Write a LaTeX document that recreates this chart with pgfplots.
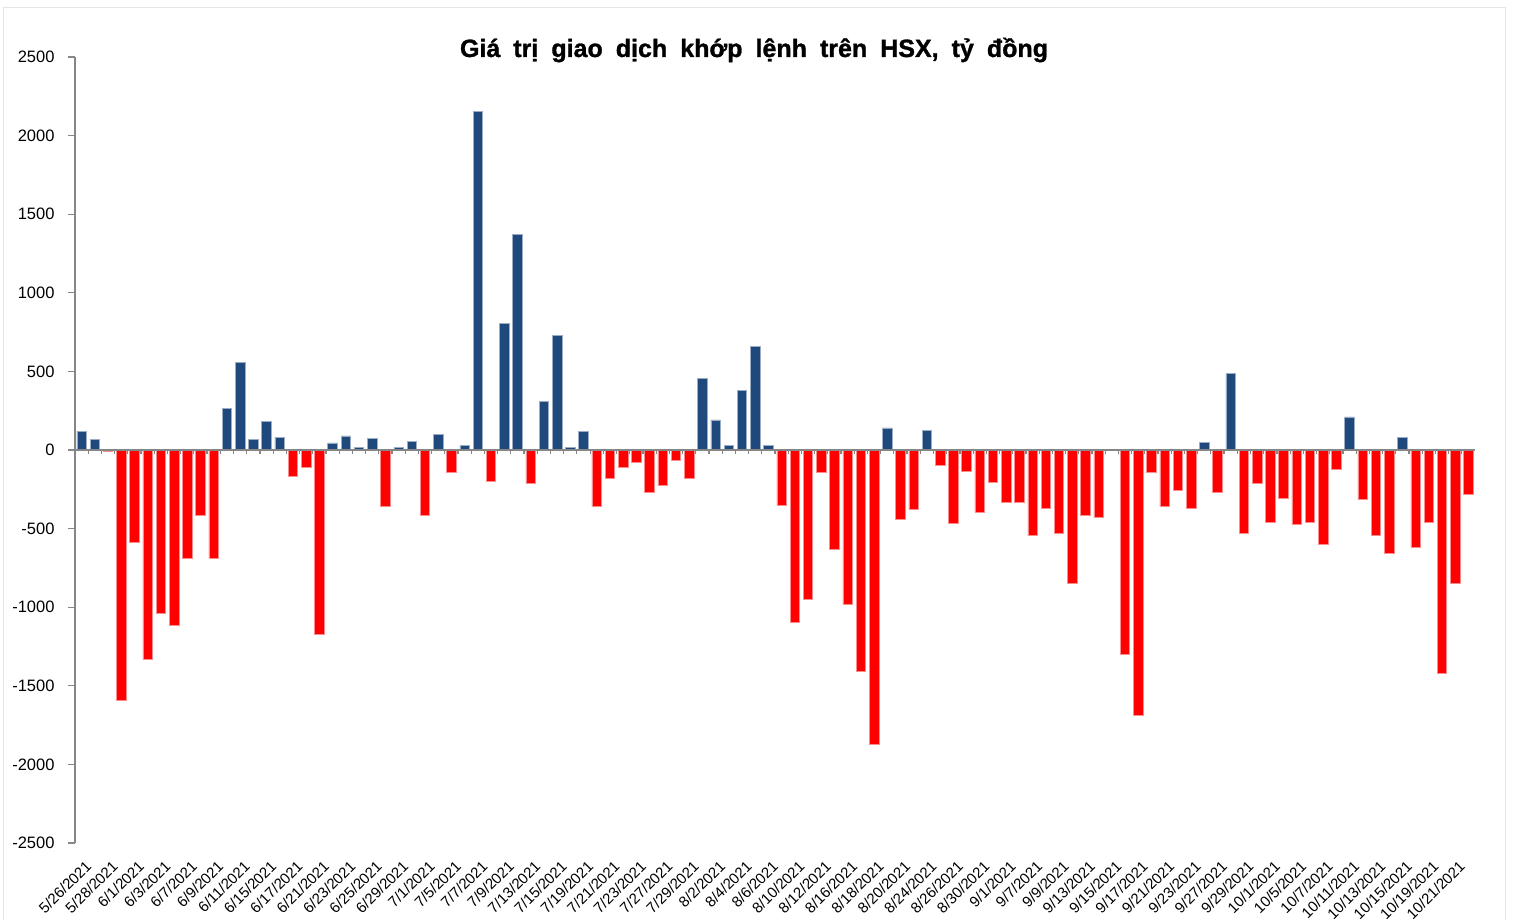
\documentclass[border=0pt]{standalone}
\usepackage{fontspec}
\setmainfont{Liberation Sans}
\newfontfamily\titlefont[FakeBold=1.2]{Liberation Sans Bold}
\usepackage{pgfplots}
\pgfplotsset{compat=1.18}
\definecolor{barblue}{RGB}{31,73,125}
\definecolor{barred}{RGB}{255,0,0}
\definecolor{axgray}{RGB}{134,134,134}

\begin{document}
\begin{tikzpicture}[x=1pt,y=1pt]
\useasboundingbox (0,0) rectangle (1513,919);
\draw[black!10, line width=1pt] (3,-5) rectangle (1505,911);
\node[anchor=base, inner sep=0pt, font=\titlefont\fontsize{25}{28}\selectfont] at (754,862)
  {\makebox[588pt][s]{Giá trị giao dịch khớp lệnh trên HSX, tỷ đồng}};
% bars
\begin{axis}[
  at={(75pt,76pt)}, anchor=south west,
  scale only axis, width=1400pt, height=786pt,
  xmin=-0.5, xmax=105.5, ymin=-2500, ymax=2500,
  hide y axis,
  axis x line*=middle,
  x axis line style={axgray, line width=2pt, -},
  xtick={-0.5,0.5,...,105.5}, xticklabels={},
  tick align=outside, major tick length=4pt,
  x tick style={axgray, line width=1.2pt},
  axis on top,
  ybar, bar width=0.72,
]
\addplot[ybar, bar shift=0pt, fill=barblue, draw=barblue!45!white, line width=0.6pt] coordinates {
(0,120) (1,65) (11,265) (12,555) (13,65) (14,180) (15,80) (19,45) (20,90) (21,15) (22,72)
(24,15) (25,55) (27,100) (29,28) (30,2155) (32,805) (33,1373) (35,307) (36,728) (37,17)
(38,117) (47,455) (48,192) (49,27) (50,378) (51,657) (52,27) (61,140) (64,127) (85,50)
(87,485) (96,210) (100,80)
};
\addplot[ybar, bar shift=0pt, fill=barred, draw=barred!45!white, line width=0.6pt] coordinates {
(2,-8) (3,-1590) (4,-585) (5,-1330) (6,-1040) (7,-1115) (8,-690) (9,-415) (10,-690)
(16,-165) (17,-112) (18,-1170) (23,-358) (26,-418) (28,-145) (31,-198) (34,-213)
(39,-358) (40,-183) (41,-108) (42,-80) (43,-270) (44,-225) (45,-68) (46,-183)
(53,-350) (54,-1095) (55,-950) (56,-145) (57,-630) (58,-980) (59,-1405) (60,-1870)
(62,-440) (63,-380) (65,-100) (66,-465) (67,-135) (68,-395) (69,-205) (70,-332) (71,-332)
(72,-545) (73,-370) (74,-530) (75,-850) (76,-415) (77,-430) (78,-5) (79,-1300) (80,-1690)
(81,-140) (82,-355) (83,-255) (84,-370) (86,-270) (88,-530) (89,-210) (90,-460) (91,-310)
(92,-475) (93,-460) (94,-600) (95,-125) (97,-315) (98,-545) (99,-660) (101,-620)
(102,-460) (103,-1420) (104,-850) (105,-285)
};
\end{axis}
% y axis and date labels
\begin{axis}[
  at={(75pt,76pt)}, anchor=south west,
  scale only axis, width=1400pt, height=786pt,
  xmin=-0.5, xmax=105.5, ymin=-2500, ymax=2500,
  axis y line*=left, axis x line*=bottom,
  x axis line style={draw=none},
  y axis line style={axgray, line width=1.5pt},
  tick align=outside, major tick length=7pt,
  y tick style={axgray, line width=1.2pt},
  x tick style={draw=none},
  ytick={-2500,-2000,...,2500},
  yticklabel style={font=\fontsize{16.5}{18}\selectfont, /pgf/number format/assume math mode=true, /pgf/number format/1000 sep={}, xshift=-10pt},
  xtick={0,2,...,104},
  xticklabels={5/26/2021,5/28/2021,6/1/2021,6/3/2021,6/7/2021,6/9/2021,6/11/2021,6/15/2021,6/17/2021,6/21/2021,6/23/2021,6/25/2021,6/29/2021,7/1/2021,7/5/2021,7/7/2021,7/9/2021,7/13/2021,7/15/2021,7/19/2021,7/21/2021,7/23/2021,7/27/2021,7/29/2021,8/2/2021,8/4/2021,8/6/2021,8/10/2021,8/12/2021,8/16/2021,8/18/2021,8/20/2021,8/24/2021,8/26/2021,8/30/2021,9/1/2021,9/7/2021,9/9/2021,9/13/2021,9/15/2021,9/17/2021,9/21/2021,9/23/2021,9/27/2021,9/29/2021,10/1/2021,10/5/2021,10/7/2021,10/11/2021,10/13/2021,10/15/2021,10/19/2021,10/21/2021},
  xticklabel style={font=\fontsize{15}{17}\selectfont, xshift=3pt, yshift=-8pt, rotate=45, anchor=north east, inner sep=1pt},
]
\end{axis}
\end{tikzpicture}
\end{document}
